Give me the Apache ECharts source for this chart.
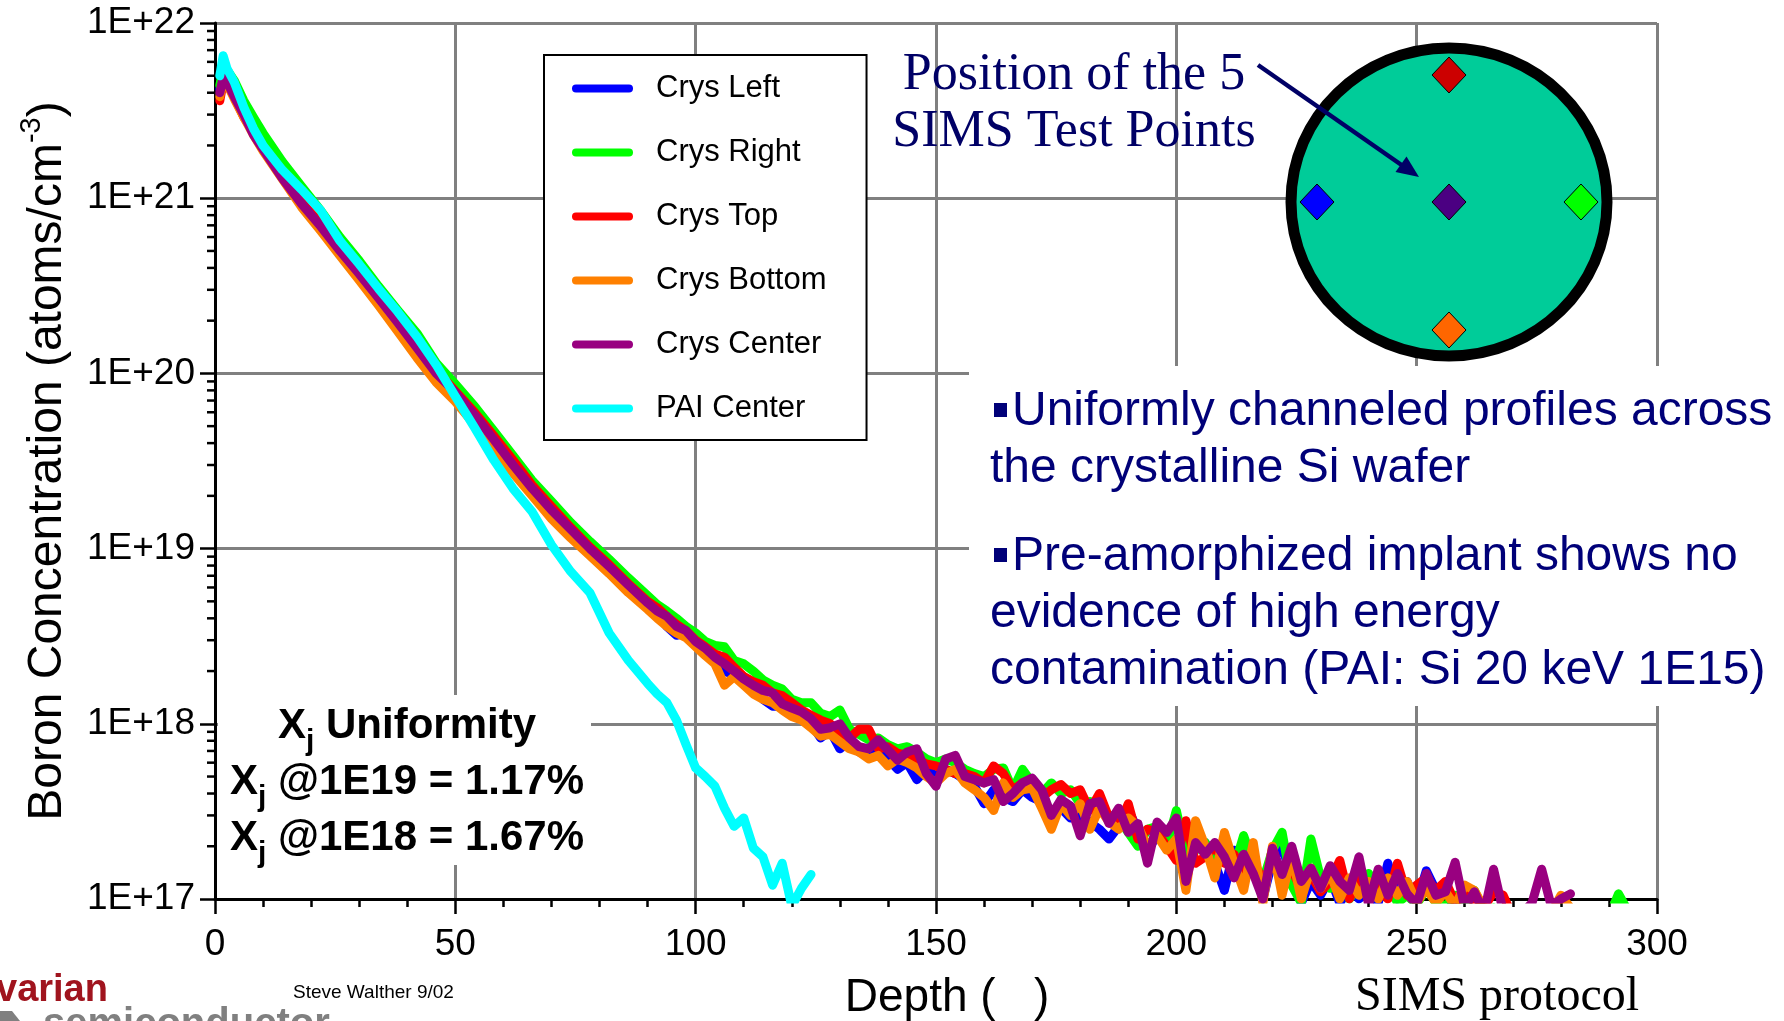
<!DOCTYPE html>
<html><head><meta charset="utf-8">
<script src="https://cdn.jsdelivr.net/npm/echarts@6/dist/echarts.min.js"></script>
<style>html,body{margin:0;padding:0;background:#fff;}#c{width:1784px;height:1021px;}</style>
</head><body><div id="c"></div>
<script>
// Depth (Angstrom) sample grid
const depth = [1,1.7,2.5,4,6,8,10,
14,18,22,26,30,34,38,42,46,50,54,58,62,66,70,74,78,82,86,90,
92,94,96,98,100,102,104,106,108,110,
112,114,116,118,120,122,124,126,128,130,
132,134,136,138,140,142,144,146,148,150,
152,154,156,158,160,162,164,166,168,170,
172,174,176,178,180,182,184,186,188,190,
192,194,196,198,200,202,204,206,208,210,
212,214,216,218,220,222,224,226,228,230,
232,234,236,238,240,242,244,246,248,250,
252,254,256,258,260,262,264,266,268,270,
272,274,276,278,280,282,284,286,288,290,
292,294];

// Boron concentration (atoms/cm^3) per test point
const crysLeft = [4.2e21,5.0e21,4.8e21,4.0e21,3.0e21,2.4e21,1.95e21,
1.35e21,9.5e20,6.9e20,5.0e20,3.6e20,2.6e20,1.9e20,1.35e20,9.8e19,7.4e19,5.5e19,4.0e19,2.9e19,2.1e19,1.58e19,1.23e19,9.5e18,7.6e18,5.9e18,4.7e18,
4.2e18,3.6e18,3.2e18,3.3e18,2.8e18,2.5e18,2.3e18,2.0e18,1.9e18,1.74e18,
1.58e18,1.38e18,1.26e18,1.26e18,1.17e18,1.1e18,1.0e18,8.3e17,9.1e17,7.2e17,
7.9e17,6.9e17,6.6e17,7.1e17,6.3e17,5.5e17,6.0e17,4.8e17,5.5e17,5.0e17,
5.5e17,5.2e17,4.8e17,4.4e17,3.5e17,4.2e17,3.8e17,3.6e17,4.2e17,3.8e17,
3.6e17,3.2e17,3.3e17,2.9e17,3.0e17,2.75e17,2.5e17,2.2e17,2.6e17,3.2e17,
2.5e17,1.9e17,2.3e17,2.0e17,1.9e17,1.5e17,2.0e17,2.1e17,1.6e17,1.12e17,
1.9e17,1.26e17,1.6e17,1.0e17,1.66e17,2.0e17,1.32e17,9.5e16,1.26e17,1.05e17,
1.32e17,9.5e16,1.15e17,1.0e17,1.12e17,9.5e16,1.6e17,1.0e17,1.26e17,9.5e16,
1.45e17,1.12e17,1.2e17,8.3e16];

const crysRight = [4.4e21,5.5e21,5.4e21,4.7e21,3.6e21,2.9e21,2.35e21,
1.62e21,1.17e21,8.5e20,6.0e20,4.4e20,3.15e20,2.3e20,1.7e20,1.15e20,8.7e19,6.5e19,4.7e19,3.4e19,2.45e19,1.86e19,1.41e19,1.1e19,8.7e18,6.8e18,5.4e18,
4.8e18,4.4e18,4.0e18,3.6e18,3.3e18,2.95e18,2.8e18,2.75e18,2.3e18,2.2e18,
2.0e18,1.78e18,1.66e18,1.58e18,1.38e18,1.32e18,1.32e18,1.15e18,1.1e18,1.2e18,
9.3e17,8.7e17,8.1e17,8.3e17,7.6e17,7.2e17,7.4e17,6.9e17,6.3e17,6.0e17,
6.3e17,6.0e17,5.5e17,5.2e17,5.0e17,5.5e17,5.6e17,4.2e17,5.5e17,4.6e17,
4.0e17,4.6e17,4.0e17,4.2e17,3.5e17,3.6e17,3.2e17,3.0e17,2.9e17,2.4e17,
2.0e17,2.5e17,2.6e17,2.0e17,3.2e17,1.8e17,1.9e17,2.1e17,1.66e17,2.0e17,
1.5e17,2.3e17,1.6e17,1.26e17,1.9e17,2.4e17,1.2e17,9.5e16,2.2e17,1.32e17,
1.15e17,1.38e17,1.0e17,1.2e17,1.4e17,1.12e17,1.26e17,9.5e16,1.05e17,9.3e16,
1.15e17,9.5e16,9.1e16,1.05e17,8.9e16,1.12e17,8.5e16,8.9e16,8.3e16,7.9e16,
7.9e16,7.9e16,7.9e16,7.9e16,7.9e16,7.9e16,7.9e16,7.9e16,7.9e16,7.9e16,
1.07e17,8.5e16];

const crysTop = [3.6e21,4.6e21,4.5e21,3.8e21,2.9e21,2.4e21,1.9e21,
1.35e21,9.5e20,7.1e20,5.2e20,3.8e20,2.8e20,2.0e20,1.48e20,1.05e20,7.9e19,6.0e19,4.4e19,3.2e19,2.3e19,1.74e19,1.32e19,1.02e19,8.1e18,6.3e18,5.0e18,
4.6e18,4.1e18,3.7e18,3.4e18,3.0e18,2.75e18,2.5e18,2.4e18,2.1e18,1.86e18,
1.74e18,1.66e18,1.5e18,1.45e18,1.32e18,1.2e18,1.12e18,1.05e18,1.0e18,8.9e17,
8.3e17,9.3e17,9.3e17,7.2e17,7.4e17,6.8e17,6.6e17,6.3e17,5.9e17,5.75e17,
5.5e17,5.2e17,5.2e17,5.0e17,4.6e17,5.75e17,5.2e17,4.2e17,4.6e17,4.8e17,
3.8e17,4.2e17,4.5e17,4.0e17,4.2e17,3.2e17,4.0e17,2.9e17,2.6e17,3.5e17,
2.2e17,2.5e17,2.4e17,2.0e17,1.66e17,2.8e17,1.6e17,1.74e17,2.0e17,1.6e17,
1.8e17,1.4e17,1.66e17,1.26e17,1.6e17,1.32e17,1.5e17,1.12e17,1.38e17,1.1e17,
1.26e17,1.66e17,1.0e17,1.32e17,1.05e17,1.15e17,1.0e17,1.6e17,1.05e17,1.2e17,
1.32e17,1.12e17,1.26e17,9.5e16,1.15e17,9.5e16,8.9e16,1.1e17,1.05e17,7.9e16];

const crysBottom = [3.8e21,4.7e21,4.5e21,3.7e21,2.9e21,2.3e21,1.86e21,
1.29e21,8.9e20,6.5e20,4.7e20,3.4e20,2.45e20,1.74e20,1.23e20,8.9e19,6.9e19,5.1e19,3.7e19,2.7e19,2.0e19,1.48e19,1.15e19,9.1e18,7.2e18,5.6e18,4.5e18,
4.0e18,3.6e18,3.3e18,3.1e18,2.75e18,2.45e18,2.2e18,1.66e18,1.86e18,1.66e18,
1.48e18,1.38e18,1.32e18,1.2e18,1.1e18,1.05e18,9.5e17,8.5e17,8.7e17,7.9e17,
7.2e17,6.9e17,6.3e17,6.6e17,5.75e17,6.3e17,6.0e17,5.6e17,5.0e17,4.6e17,
5.2e17,5.5e17,4.6e17,4.2e17,3.8e17,3.2e17,4.6e17,3.8e17,4.2e17,4.3e17,
3.3e17,2.5e17,3.5e17,3.0e17,3.5e17,2.5e17,3.3e17,2.75e17,2.5e17,2.9e17,
2.6e17,2.0e17,2.3e17,1.9e17,2.2e17,1.12e17,2.8e17,2.0e17,1.32e17,2.4e17,
1.6e17,1.12e17,2.1e17,9.5e16,2.0e17,1.05e17,1.78e17,1.0e17,1.5e17,1.15e17,
1.4e17,1.0e17,1.32e17,1.05e17,1.26e17,1.0e17,1.32e17,1.05e17,1.26e17,9.5e16,
1.15e17,9.5e16,1.1e17,9.1e16,1.2e17,1.12e17,8.9e16,8.3e16,8.3e16,8.3e16,
8.3e16,8.3e16,8.3e16,8.3e16,1.05e17,8.9e16];

const crysCenter = [4.0e21,4.9e21,4.6e21,3.8e21,3.0e21,2.3e21,1.9e21,
1.3e21,9.3e20,6.9e20,5.0e20,3.7e20,2.7e20,1.95e20,1.4e20,1.0e20,7.8e19,5.8e19,4.2e19,3.0e19,2.2e19,1.66e19,1.29e19,1.0e19,7.9e18,6.2e18,4.9e18,
4.4e18,4.1e18,3.6e18,3.4e18,2.95e18,2.7e18,2.4e18,2.2e18,2.0e18,1.8e18,
1.66e18,1.55e18,1.5e18,1.3e18,1.23e18,1.17e18,1.07e18,9.3e17,9.5e17,1.0e18,
8.3e17,7.4e17,7.2e17,8.1e17,7.1e17,6.2e17,6.9e17,7.2e17,5.2e17,4.4e17,
6.3e17,6.6e17,5.0e17,4.8e17,4.6e17,4.8e17,3.6e17,4.0e17,4.6e17,4.9e17,
4.2e17,3.0e17,3.7e17,3.4e17,2.3e17,3.5e17,3.6e17,2.7e17,3.3e17,2.4e17,
2.7e17,1.6e17,2.75e17,2.4e17,2.9e17,1.26e17,2.1e17,1.8e17,2.1e17,1.74e17,
1.32e17,1.8e17,1.4e17,1.0e17,1.95e17,1.38e17,2.0e17,1.26e17,1.5e17,1.15e17,
1.55e17,1.26e17,1.12e17,1.74e17,9.3e16,1.48e17,1.05e17,1.4e17,1.07e17,9.3e16,
1.4e17,1.05e17,1.1e17,1.62e17,8.9e16,1.1e17,8.3e16,1.48e17,8.5e16,7.9e16,
8.3e16,9.5e16,1.48e17,9.1e16,1.0e17,1.07e17];

const paiCenter = [5.0e21,6.5e21,5.5e21,4.6e21,3.3e21,2.5e21,2.0e21,
1.45e21,1.12e21,8.5e20,5.7e20,4.2e20,3.05e20,2.25e20,1.62e20,1.12e20,7.4e19,4.9e19,3.2e19,2.2e19,1.62e19,1.05e19,7.4e18,5.6e18,3.3e18,2.3e18,1.7e18,
1.48e18,1.32e18,1.05e18,7.6e17,5.6e17,5.0e17,4.4e17,3.3e17,2.6e17,2.9e17,
1.95e17,1.74e17,1.2e17,1.6e17,9.1e16,1.15e17,1.38e17];

const xTicks = [0, 50, 100, 150, 200, 250, 300];
const seriesNames = ['Crys Left','Crys Right','Crys Top','Crys Bottom','Crys Center','PAI Center'];
const seriesColors = ['#0000FF','#00FF00','#FF0000','#FF8000','#990080','#00FFFF'];
const seriesValues = [crysLeft, crysRight, crysTop, crysBottom, crysCenter, paiCenter];

const SANS = '"Liberation Sans", Arial, Helvetica, sans-serif';
const SERIF = '"Liberation Serif", "Times New Roman", serif';
const NAVY = '#000078';

// minor log ticks (2..9 within each decade) drawn through the y scale
const minorTickVals = [];
for (let e = 17; e < 22; e++) for (let m = 2; m <= 9; m++) minorTickVals.push([0, m * Math.pow(10, e)]);

const lineSeries = seriesNames.map((n, k) => ({
  name: n, type: 'line', symbol: 'none', showSymbol: false, animation: false,
  clip: true, z: 2 + k * 0.01,
  data: seriesValues[k].map((v, i) => [depth[i], v]),
  lineStyle: { color: seriesColors[k], width: 9, cap: 'round', join: 'round' },
  itemStyle: { color: seriesColors[k] }
}));

const minorSeries = {
  type: 'custom', name: '_minor', silent: true, clip: false, animation: false, z: 3,
  data: minorTickVals,
  renderItem: function (params, api) {
    const p = api.coord([api.value(0), api.value(1)]);
    return { type: 'line', shape: { x1: p[0] - 8, y1: p[1], x2: p[0], y2: p[1] },
      style: { stroke: '#000', lineWidth: 2.5 } };
  }
};

function diamond(cx, cy, color) {
  return { type: 'polygon', z: 4, shape: { points: [[cx, cy - 18], [cx + 17, cy], [cx, cy + 18], [cx - 17, cy]] },
    style: { fill: color, stroke: '#000', lineWidth: 1 } };
}
function txt(x, y, s, font, fill, align) {
  return { type: 'text', z: 6, x: x, y: y, style: { text: s, font: font, fill: fill, align: align || 'left', verticalAlign: 'middle' } };
}
function xjLine(y, rest) {
  return { type: 'text', z: 6, x: 407, y: y, style: {
    text: '{m|X}{s|j}{m|' + rest + '}', align: 'center', verticalAlign: 'top',
    rich: {
      m: { fontSize: 42, fontWeight: 'bold', fontFamily: SANS, fill: '#000', verticalAlign: 'top' },
      s: { fontSize: 30, fontWeight: 'bold', fontFamily: SANS, fill: '#000', verticalAlign: 'top', padding: [22, 0, 0, 0] }
    } } };
}

const chart = echarts.init(document.getElementById('c'), null, { renderer: 'canvas' });
chart.setOption({
  animation: false,
  backgroundColor: '#fff',
  grid: { left: 215, top: 23, width: 1442, height: 876, containLabel: false, outerBoundsMode: 'none' },
  legend: {
    data: seriesNames, orient: 'vertical', left: 544, top: 55,
    padding: [18, 40, 16, 28], itemGap: 33, itemWidth: 61, itemHeight: 8,
    icon: 'path://M4,0H57A4,4 0 0 1 57,8H4A4,4 0 0 1 4,0Z',
    backgroundColor: '#fff', borderColor: '#000', borderWidth: 2, borderRadius: 0,
    selectedMode: false,
    textStyle: { fontSize: 31, fontFamily: SANS, color: '#000', lineHeight: 31, padding: [0, 0, 0, 18] }
  },
  xAxis: {
    type: 'value', min: 0, max: 300, interval: 50,
    name: 'Depth (   )', nameLocation: 'middle', nameGap: 76,
    nameTextStyle: { fontSize: 46, fontFamily: SANS, color: '#000', padding: [0, 0, 0, 22] },
    axisLine: { show: true, onZero: false, lineStyle: { color: '#000', width: 3 } },
    axisTick: { show: true, length: 15, lineStyle: { color: '#000', width: 2.5 } },
    minorTick: { show: true, splitNumber: 5, length: 8, lineStyle: { color: '#000', width: 2.5 } },
    axisLabel: { fontSize: 37, fontFamily: SANS, color: '#000', margin: 27,
      formatter: v => (xTicks.indexOf(v) >= 0 ? String(v) : '') },
    splitLine: { show: true, lineStyle: { color: '#808080', width: 3 } }
  },
  yAxis: {
    type: 'log', logBase: 10, min: 1e17, max: 1e22,
    name: '{a|Boron Concentration (atoms/cm}{s|-3}{a|)}', nameLocation: 'middle', nameGap: 136, nameRotate: 90,
    nameTextStyle: { rich: {
      a: { fontSize: 48, fontFamily: SANS, color: '#000', lineHeight: 62 },
      s: { fontSize: 29, fontFamily: SANS, color: '#000', verticalAlign: 'top' } } },
    axisLine: { show: true, onZero: false, lineStyle: { color: '#000', width: 3 } },
    axisTick: { show: true, length: 15, lineStyle: { color: '#000', width: 2.5 } },
    axisLabel: { fontSize: 37, fontFamily: SANS, color: '#000', margin: 20,
      formatter: v => '1E+' + Math.round(Math.log10(v)) },
    splitLine: { show: true, lineStyle: { color: '#808080', width: 3 } }
  },
  series: lineSeries.concat([minorSeries]),
  graphic: { elements: [
    // white text panels that hide grid lines
    { type: 'rect', z: 1, shape: { x: 218, y: 695, width: 373, height: 170 }, style: { fill: '#fff' } },
    { type: 'rect', z: 1, shape: { x: 969, y: 366, width: 815, height: 340 }, style: { fill: '#fff' } },
    // wafer
    { type: 'ellipse', z: 3, shape: { cx: 1449, cy: 202, rx: 158, ry: 154 }, style: { fill: '#00CC99', stroke: '#000', lineWidth: 11 } },
    diamond(1449, 75, '#CC0000'), diamond(1317, 202, '#0000FF'), diamond(1449, 202, '#4B0082'),
    diamond(1581, 202, '#00FF00'), diamond(1449, 330, '#FF6600'),
    // arrow
    { type: 'line', z: 5, shape: { x1: 1258, y1: 65, x2: 1403, y2: 166 }, style: { stroke: '#000066', lineWidth: 4.5 } },
    { type: 'polygon', z: 5, shape: { points: [[1419, 177], [1395.5, 172], [1406.5, 156.5]] }, style: { fill: '#000066' } },
    // annotation texts
    txt(1074, 75, 'Position of the 5', '52px ' + SERIF, '#000066', 'center'),
    txt(1074, 132, 'SIMS Test Points', '52px ' + SERIF, '#000066', 'center'),
    { type: 'rect', z: 6, shape: { x: 994, y: 403, width: 13, height: 14 }, style: { fill: NAVY } },
    { type: 'rect', z: 6, shape: { x: 994, y: 548, width: 13, height: 14 }, style: { fill: NAVY } },
    txt(1012, 411.5, 'Uniformly channeled profiles across', '48px ' + SANS, NAVY),
    txt(990, 468.5, 'the crystalline Si wafer', '48px ' + SANS, NAVY),
    txt(1012, 556.5, 'Pre-amorphized implant shows no', '48px ' + SANS, NAVY),
    txt(990, 613.5, 'evidence of high energy', '48px ' + SANS, NAVY),
    txt(990, 670.5, 'contamination (PAI: Si 20 keV 1E15)', '48px ' + SANS, NAVY),
    xjLine(705, ' Uniformity'),
    xjLine(761, ' @1E19 = 1.17%'),
    xjLine(817, ' @1E18 = 1.67%'),
    txt(1355, 997, 'SIMS protocol', '48px ' + SERIF, '#000'),
    txt(293, 993, 'Steve Walther 9/02', '19px ' + SANS, '#000'),
    txt(-4, 991, 'varian', 'bold 38px ' + SANS, '#A0141E'),
    { type: 'polygon', z: 6, shape: { points: [[0, 1011], [12, 1011], [20, 1021], [0, 1021]] }, style: { fill: '#808080' } },
    txt(43, 1025, 'semiconductor', 'bold 40px ' + SANS, '#808080')
  ] }
});
</script>
</body></html>
